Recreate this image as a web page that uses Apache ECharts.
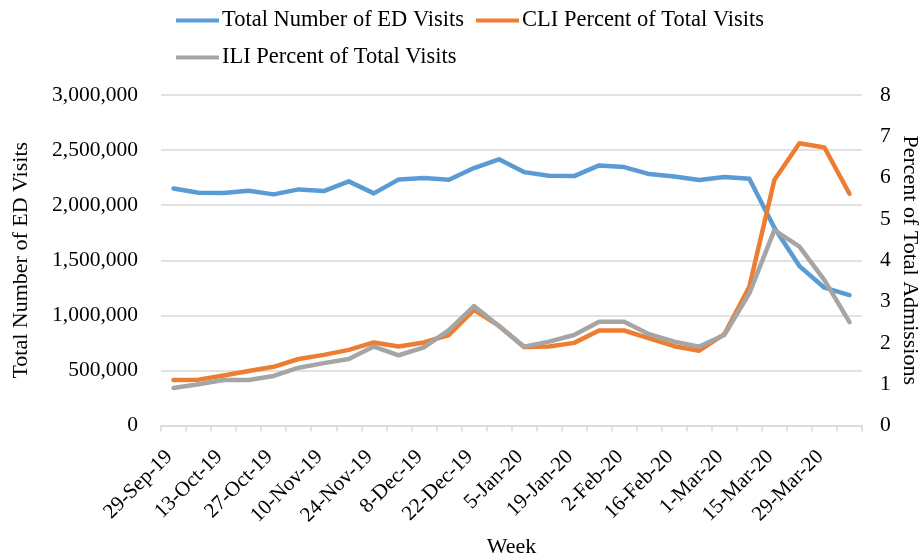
<!DOCTYPE html>
<html>
<head>
<meta charset="utf-8">
<script src="https://cdn.jsdelivr.net/npm/echarts@6/dist/echarts.min.js"></script>
<style>
html,body{margin:0;padding:0;background:#fff;overflow:hidden;}
#chart{width:920px;height:559px;}
</style>
</head>
<body>
<div id="chart"></div>
<script>
const weeks = ["29-Sep-19","6-Oct-19","13-Oct-19","20-Oct-19","27-Oct-19","3-Nov-19","10-Nov-19","17-Nov-19","24-Nov-19","1-Dec-19","8-Dec-19","15-Dec-19","22-Dec-19","29-Dec-19","5-Jan-20","12-Jan-20","19-Jan-20","26-Jan-20","2-Feb-20","9-Feb-20","16-Feb-20","23-Feb-20","1-Mar-20","8-Mar-20","15-Mar-20","22-Mar-20","29-Mar-20","5-Apr-20"];
const edVisits = [2152000,2113000,2110000,2131000,2098000,2143000,2128000,2216000,2107000,2234000,2246000,2231000,2337000,2416000,2300000,2267000,2264000,2361000,2346000,2282000,2261000,2228000,2255000,2240000,1795000,1447000,1251000,1184000];
const cliPct = [1.10,1.11,1.21,1.32,1.42,1.61,1.71,1.83,2.01,1.91,2.01,2.19,2.80,2.41,1.90,1.91,2.00,2.30,2.30,2.11,1.92,1.81,2.21,3.36,5.94,6.83,6.73,5.61];
const iliPct = [0.91,1.00,1.10,1.10,1.20,1.40,1.51,1.61,1.91,1.70,1.89,2.31,2.89,2.41,1.91,2.03,2.19,2.51,2.51,2.21,2.03,1.91,2.19,3.20,4.73,4.33,3.52,2.50];
const leftTicks = {min:0, max:3000000, interval:500000};
const rightTicks = {min:0, max:8, interval:1};

const FONT = '"Liberation Serif","Times New Roman",serif';
const chart = echarts.init(document.getElementById('chart'), null, {renderer:'canvas'});
const lineStyleBase = {width:4.5, cap:'round', join:'round'};
chart.setOption({
  animation:false,
  textStyle:{fontFamily:FONT, color:'#000'},
  legend:[
    {data:['Total Number of ED Visits','CLI Percent of Total Visits'], left:171, top:4, itemWidth:43, itemHeight:4, itemGap:12, icon:'rect',
     textStyle:{fontFamily:FONT, fontSize:22.5, color:'#000', padding:[0,0,0,-2]}},
    {data:['ILI Percent of Total Visits'], left:171, top:41, itemWidth:43, itemHeight:4, icon:'rect',
     textStyle:{fontFamily:FONT, fontSize:22.5, color:'#000', padding:[0,0,0,-2]}}
  ],
  grid:{left:161, right:58, top:95, bottom:133.5, containLabel:false, outerBoundsMode:'none'},
  xAxis:{type:'category', data:weeks, boundaryGap:true,
    name:'Week', nameLocation:'middle', nameGap:111,
    nameTextStyle:{fontFamily:FONT, fontSize:22, color:'#000'},
    axisLine:{show:true, lineStyle:{color:'#d9d9d9', width:1.5}},
    axisTick:{show:true, interval:0, length:6, lineStyle:{color:'#d9d9d9', width:1.5}},
    axisLabel:{interval:1, rotate:45, margin:24, padding:[0,6,0,0], fontFamily:FONT, fontSize:21, color:'#000'},
    splitLine:{show:false}
  },
  yAxis:[
    {type:'value', min:leftTicks.min, max:leftTicks.max, interval:leftTicks.interval,
     name:'Total Number of ED Visits', nameLocation:'middle', nameGap:129,
     nameTextStyle:{fontFamily:FONT, fontSize:22, color:'#000'},
     axisLine:{show:false}, axisTick:{show:false},
     axisLabel:{margin:23, fontFamily:FONT, fontSize:21.5, color:'#000',
       formatter:v=>v.toLocaleString('en-US')},
     splitLine:{show:true, lineStyle:{color:'#d9d9d9', width:1.5}}
    },
    {type:'value', min:rightTicks.min, max:rightTicks.max, interval:rightTicks.interval, position:'right',
     name:'Percent of Total Admissions', nameLocation:'middle', nameGap:37, nameRotate:-90, nameMoveOverlap:false,
     nameTextStyle:{fontFamily:FONT, fontSize:22, color:'#000'},
     axisLine:{show:false}, axisTick:{show:false},
     axisLabel:{margin:18, fontFamily:FONT, fontSize:21.5, color:'#000'},
     splitLine:{show:false}
    }
  ],
  series:[
    {name:'Total Number of ED Visits', type:'line', yAxisIndex:0, data:edVisits, showSymbol:false, symbol:'none',
     itemStyle:{color:'#5B9BD5'}, lineStyle:Object.assign({color:'#5B9BD5'}, lineStyleBase)},
    {name:'CLI Percent of Total Visits', type:'line', yAxisIndex:1, data:cliPct, showSymbol:false, symbol:'none',
     itemStyle:{color:'#ED7D31'}, lineStyle:Object.assign({color:'#ED7D31'}, lineStyleBase)},
    {name:'ILI Percent of Total Visits', type:'line', yAxisIndex:1, data:iliPct, showSymbol:false, symbol:'none',
     itemStyle:{color:'#A5A5A5'}, lineStyle:Object.assign({color:'#A5A5A5'}, lineStyleBase)}
  ]
});
</script>
</body>
</html>
